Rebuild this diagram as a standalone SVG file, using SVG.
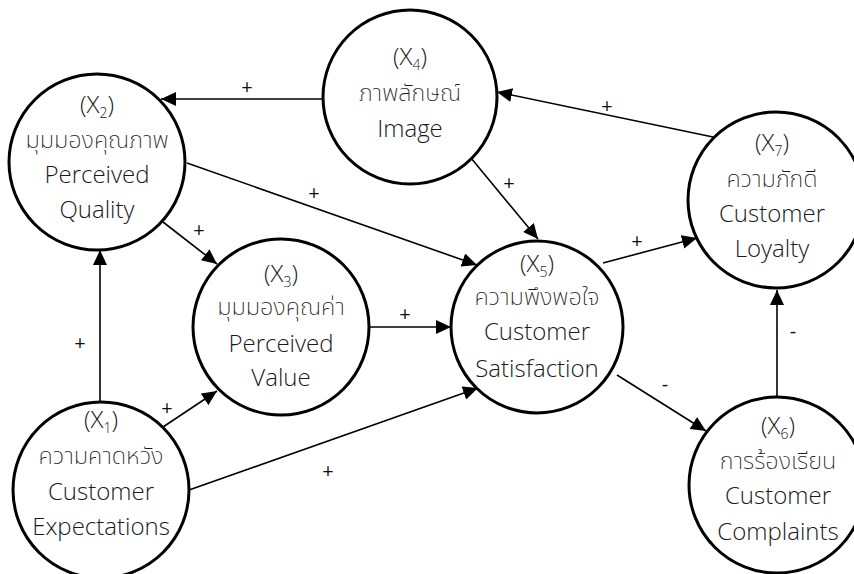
<svg xmlns="http://www.w3.org/2000/svg" width="854" height="574" viewBox="0 0 854 574">
<defs>
<marker id="arr" markerUnits="userSpaceOnUse" markerWidth="16" markerHeight="14" refX="15" refY="7" orient="auto">
<path d="M0,0 L15,7 L0,14 z" fill="#000"/>
</marker>
<style>
.node circle{fill:#fff;stroke:#000;stroke-width:3}
.node text{font-family:"Open Sans","Noto Sans",sans-serif;font-size:24px;font-weight:300;fill:#1a1a1a;text-anchor:middle}
.node text.th{font-family:"Noto Sans Thai","Noto Sans Thai Looped","Sarabun","TH Sarabun New","Loma","Waree","Garuda","Kinnari","Sawasdee","Tlwg Typo","Open Sans",sans-serif;font-weight:200;font-size:23.5px}
.node .sub{font-size:14px}
#connectors line{stroke:#000;stroke-width:1.6;marker-end:url(#arr)}
.lbl{font-family:"Open Sans","Noto Sans",sans-serif;font-size:20px;fill:#111;text-anchor:middle;dominant-baseline:central}
</style>
</defs>
<rect width="854" height="574" fill="#fff"/>
<g id="connectors">
<line x1="323" y1="99" x2="161" y2="99"/>
<line x1="187" y1="163" x2="477" y2="265"/>
<line x1="163" y1="222" x2="217" y2="264"/>
<line x1="100" y1="402" x2="100" y2="250"/>
<line x1="163" y1="427" x2="217" y2="391"/>
<line x1="189" y1="490" x2="478" y2="388"/>
<line x1="369" y1="327" x2="451" y2="327"/>
<line x1="471" y1="158" x2="538" y2="239"/>
<line x1="603" y1="263" x2="697" y2="238"/>
<line x1="713" y1="137" x2="497" y2="92"/>
<line x1="617" y1="375" x2="706" y2="431"/>
<line x1="777" y1="397" x2="777" y2="290"/>
<g id="labels">
<text class="lbl" x="247" y="86">+</text>
<text class="lbl" x="314" y="192">+</text>
<text class="lbl" x="199" y="229">+</text>
<text class="lbl" x="80" y="342">+</text>
<text class="lbl" x="167" y="407">+</text>
<text class="lbl" x="328" y="470">+</text>
<text class="lbl" x="405" y="313">+</text>
<text class="lbl" x="509" y="182">+</text>
<text class="lbl" x="637" y="240">+</text>
<text class="lbl" x="607" y="105">+</text>
<text class="lbl" x="665" y="383">-</text>
<text class="lbl" x="793" y="330">-</text>
</g>
</g>
<g id="x2" class="node">
<circle cx="97" cy="162" r="88"/>
<text x="97" y="113">(X<tspan class="sub" dy="5">2</tspan><tspan dy="-5">)</tspan></text>
<text class="th" x="97" y="148">มุมมองคุณภาพ</text>
<text x="97" y="183">Perceived</text>
<text x="97" y="218">Quality</text>
</g>
<g id="x4" class="node">
<circle cx="410" cy="97" r="87"/>
<text x="410" y="65">(X<tspan class="sub" dy="5">4</tspan><tspan dy="-5">)</tspan></text>
<text class="th" x="410" y="101">ภาพลักษณ์</text>
<text x="410" y="137">Image</text>
</g>
<g id="x7" class="node">
<circle cx="776" cy="200" r="88"/>
<text x="772" y="151">(X<tspan class="sub" dy="5">7</tspan><tspan dy="-5">)</tspan></text>
<text class="th" x="772" y="187">ความภักดี</text>
<text x="772" y="222">Customer</text>
<text x="772" y="257">Loyalty</text>
</g>
<g id="x3" class="node">
<circle cx="281" cy="327" r="88"/>
<text x="281" y="282">(X<tspan class="sub" dy="5">3</tspan><tspan dy="-5">)</tspan></text>
<text class="th" x="281" y="315">มุมมองคุณค่า</text>
<text x="281" y="352">Perceived</text>
<text x="281" y="386">Value</text>
</g>
<g id="x5" class="node">
<circle cx="537" cy="327" r="86"/>
<text x="537" y="272">(X<tspan class="sub" dy="5">5</tspan><tspan dy="-5">)</tspan></text>
<text class="th" x="537" y="305">ความพึงพอใจ</text>
<text x="537" y="340">Customer</text>
<text x="537" y="377">Satisfaction</text>
</g>
<g id="x1" class="node">
<circle cx="101" cy="490" r="88"/>
<text x="101" y="428">(X<tspan class="sub" dy="5">1</tspan><tspan dy="-5">)</tspan></text>
<text class="th" x="101" y="464">ความคาดหวัง</text>
<text x="101" y="500">Customer</text>
<text x="101" y="535">Expectations</text>
</g>
<g id="x6" class="node">
<circle cx="777" cy="485" r="88"/>
<text x="778" y="434">(X<tspan class="sub" dy="5">6</tspan><tspan dy="-5">)</tspan></text>
<text class="th" x="778" y="469">การร้องเรียน</text>
<text x="778" y="504">Customer</text>
<text x="778" y="540">Complaints</text>
</g>
</svg>
